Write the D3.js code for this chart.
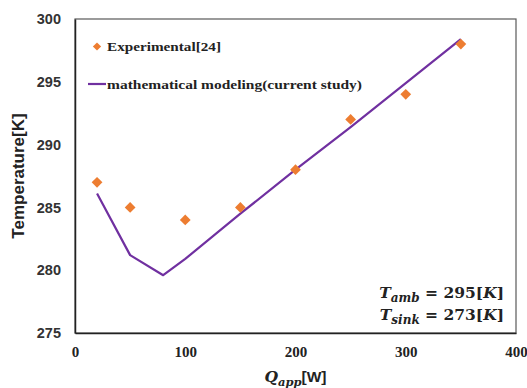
<!DOCTYPE html>
<html>
<head>
<meta charset="utf-8">
<script src="https://cdn.jsdelivr.net/npm/d3@7"></script>
<style>
  body { margin: 0; background: #fff; }
  svg { display: block; }
</style>
</head>
<body>
<div id="chart"></div>
<script>
'use strict';

// experimental points [24]
const expQ = [20, 50, 100, 150, 200, 250, 300, 350];
const expT = [287, 285, 284, 285, 288, 292, 294, 298];

// model curve (current study)
const modQ = [20, 50, 80, 100, 150, 200, 250, 300, 350];
const modT = [286.1, 281.2, 279.6, 280.9, 284.5, 288.0, 291.4, 294.9, 298.4];

const xTicks = [0, 100, 200, 300, 400];
const yTicks = [275, 280, 285, 290, 295, 300];

const W = 527, H = 388;
const margin = {top: 19, right: 11, bottom: 55, left: 75};
const width = W - margin.left - margin.right;
const height = H - margin.top - margin.bottom;

const svg = d3.select('#chart').append('svg')
    .attr('width', W)
    .attr('height', H);

const g = svg.append('g')
    .attr('transform', `translate(${margin.left},${margin.top})`);

const x = d3.scaleLinear().domain([0, 400]).range([0, width]);
const y = d3.scaleLinear().domain([275, 300]).range([height, 0]);

// frame
g.append('rect')
    .attr('width', width)
    .attr('height', height)
    .attr('fill', 'none')
    .attr('stroke', '#595959')
    .attr('stroke-width', 1.2);

const xAxis = g.append('g')
    .attr('transform', `translate(0,${height})`)
    .call(d3.axisBottom(x).tickValues(xTicks).tickSize(0).tickPadding(13));
xAxis.select('.domain').attr('stroke', '#222').attr('stroke-width', 1.5);
xAxis.selectAll('text')
    .attr('font-family', '"Liberation Serif", "Times New Roman", serif')
    .attr('font-weight', 'bold')
    .attr('font-size', 15)
    .attr('fill', '#222');

const yAxis = g.append('g')
    .call(d3.axisLeft(y).tickValues(yTicks).tickSize(0).tickPadding(14));
yAxis.select('.domain').attr('stroke', '#222').attr('stroke-width', 1.5);
yAxis.selectAll('text')
    .attr('font-family', '"Liberation Sans", Arial, sans-serif')
    .attr('font-weight', 'bold')
    .attr('font-size', 14.5)
    .attr('fill', '#333');

// model line
const line = d3.line().x(d => x(d[0])).y(d => y(d[1]));
g.append('path')
    .datum(d3.zip(modQ, modT))
    .attr('d', line)
    .attr('fill', 'none')
    .attr('stroke', '#7030a0')
    .attr('stroke-width', 2.2)
    .attr('stroke-linejoin', 'round');

// experimental diamonds
const diamond = d3.symbol().type(d3.symbolSquare).size(58);
g.selectAll('.exp')
    .data(d3.zip(expQ, expT))
  .enter().append('path')
    .attr('class', 'exp')
    .attr('d', diamond)
    .attr('transform', d => `translate(${x(d[0])},${y(d[1])}) rotate(45)`)
    .attr('fill', '#ed7d31');

// legend
const legFont = '"Liberation Serif", "Times New Roman", serif';
g.append('path')
    .attr('d', d3.symbol().type(d3.symbolSquare).size(34))
    .attr('transform', `translate(${97 - margin.left},${46.5 - margin.top}) rotate(45)`)
    .attr('fill', '#ed7d31');
g.append('text')
    .attr('x', 107 - margin.left)
    .attr('y', 51 - margin.top)
    .attr('font-family', legFont)
    .attr('font-weight', 'bold')
    .attr('font-size', 13.5)
    .attr('textLength', 114)
    .attr('lengthAdjust', 'spacingAndGlyphs')
    .attr('fill', '#222')
    .text('Experimental[24]');
g.append('line')
    .attr('x1', 88 - margin.left).attr('x2', 106 - margin.left)
    .attr('y1', 84 - margin.top).attr('y2', 84 - margin.top)
    .attr('stroke', '#7030a0')
    .attr('stroke-width', 2.2);
g.append('text')
    .attr('x', 107 - margin.left)
    .attr('y', 89 - margin.top)
    .attr('font-family', legFont)
    .attr('font-weight', 'bold')
    .attr('font-size', 13.5)
    .attr('textLength', 255)
    .attr('lengthAdjust', 'spacingAndGlyphs')
    .attr('fill', '#222')
    .text('mathematical modeling(current study)');

// conditions annotation
const mathFont = '"DejaVu Serif", "Liberation Serif", serif';
const ann = [['amb', '295'], ['sink', '273']];
ann.forEach((a, i) => {
  const t = g.append('text')
      .attr('x', 504 - margin.left)
      .attr('y', 298 - margin.top + i * 22)
      .attr('text-anchor', 'end')
      .attr('font-family', mathFont)
      .attr('font-weight', 'bold')
      .attr('font-size', 15.5)
      .attr('fill', '#222');
  t.append('tspan').attr('font-style', 'italic').text('T');
  t.append('tspan').attr('font-style', 'italic').attr('font-size', 12).attr('dy', 4).text(a[0]);
  t.append('tspan').attr('dy', -4).text(` = ${a[1]}[`);
  t.append('tspan').attr('font-style', 'italic').text('K');
  t.append('tspan').text(']');
});

// axis titles
svg.append('text')
    .attr('transform', `translate(24,${margin.top + height / 2}) rotate(-90)`)
    .attr('text-anchor', 'middle')
    .attr('font-family', '"Liberation Sans", Arial, sans-serif')
    .attr('font-weight', 'bold')
    .attr('font-size', 17)
    .attr('fill', '#222')
    .text('Temperature[K]');

const xt = svg.append('text')
    .attr('x', margin.left + width / 2)
    .attr('y', 382)
    .attr('text-anchor', 'middle')
    .attr('font-family', mathFont)
    .attr('font-weight', 'bold')
    .attr('font-size', 15.5)
    .attr('fill', '#222');
xt.append('tspan').attr('font-style', 'italic').text('Q');
xt.append('tspan').attr('font-style', 'italic').attr('font-size', 11.5).attr('dy', 4).text('app');
xt.append('tspan').attr('dy', -4).attr('font-family', '"Liberation Sans", Arial, sans-serif').text('[W]');
</script>
</body>
</html>
